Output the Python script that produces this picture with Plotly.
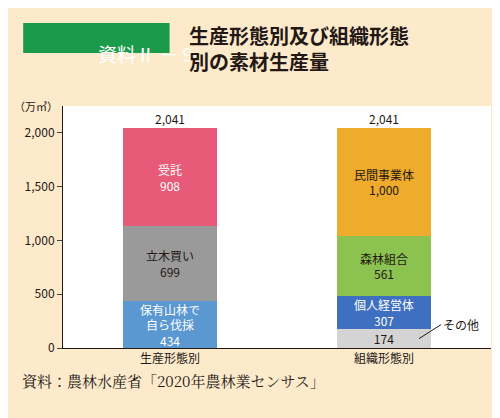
import plotly.graph_objects as go

cats = ["生産形態別", "組織形態別"]
prod_labels = ["保有山林で<br>自ら伐採", "立木買い", "受託"]
prod_values = [434, 699, 908]
prod_colors = ["#5b97d1", "#9a9a9a", "#e85b78"]
org_labels = ["", "個人経営体", "森林組合", "民間事業体"]
org_values = [174, 307, 561, 1000]
org_colors = ["#d4d4d4", "#3f6fc0", "#8cc24f", "#efab2b"]
totals = [2041, 2041]
yticks = [0, 500, 1000, 1500, 2000]

fig = go.Figure()
for lab, v, c in zip(prod_labels, prod_values, prod_colors):
    fig.add_bar(x=[cats[0]], y=[v], marker_color=c, marker_line_width=0,
                text=[f"{lab}<br>{v:,}"], textposition="inside", insidetextanchor="middle",
                textangle=0,
                textfont=dict(color="#231815" if c == "#9a9a9a" else "white", size=12),
                width=0.435, showlegend=False)
for lab, v, c in zip(org_labels, org_values, org_colors):
    t = f"{lab}<br>{v:,}" if lab else f"{v:,}"
    fig.add_bar(x=[cats[1]], y=[v], marker_color=c, marker_line_width=0,
                text=[t], textposition="inside", insidetextanchor="middle",
                textangle=0,
                textfont=dict(color="white" if c == "#3f6fc0" else "#231815", size=12),
                width=0.435, showlegend=False)
for c, t in zip(cats, totals):
    fig.add_annotation(x=c, y=t, text=f"{t:,}", showarrow=False, yshift=10,
                       font=dict(size=12, color="#231815"))
fig.add_annotation(x=cats[1], y=org_values[0] / 2, xshift=35, ax=22, ay=-14,
                   text="その他", showarrow=True, arrowhead=0, arrowwidth=1,
                   arrowcolor="#231815", xanchor="left", font=dict(size=12, color="#231815"))

fig.add_annotation(xref="paper", yref="paper", x=-0.12, y=1.04, text="（万㎥）",
                   showarrow=False, font=dict(size=11, color="#231815"), xanchor="left")
fig.add_shape(type="rect", xref="paper", yref="paper", x0=-0.093, x1=0.249, y0=1.343, y1=1.219,
              fillcolor="#1a9a4a", line_width=0)
fig.add_annotation(xref="paper", yref="paper", x=0.078, y=1.281, text="資料Ⅱ － 9",
                   showarrow=False, font=dict(size=19, color="white"))
fig.add_annotation(xref="paper", yref="paper", x=0.29, y=1.36, yanchor="top", xanchor="left",
                   align="left", text="<b>生産形態別及び組織形態<br>別の素材生産量</b>",
                   showarrow=False, font=dict(size=20, color="#231815"))
fig.add_annotation(xref="paper", yref="paper", x=-0.1, y=-0.186, xanchor="left",
                   text="資料：農林水産省「2020年農林業センサス」", showarrow=False,
                   font=dict(size=15, color="#231815", family="Noto Serif CJK JP, serif"))

fig.update_layout(
    barmode="stack", width=500, height=418,
    paper_bgcolor="#fdeacb", plot_bgcolor="white",
    margin=dict(l=55, r=17, t=98, b=78),
    uniformtext=dict(minsize=12, mode="show"),
    font=dict(family="Noto Sans CJK JP", color="#231815"),
    xaxis=dict(range=[-0.5, 1.5], showline=True, linecolor="#231815", ticks="",
               tickfont=dict(size=12)),
    yaxis=dict(range=[0, 2250], tickvals=yticks, tickformat=",", showgrid=False,
               showline=True, linecolor="#231815", ticks="outside", ticklen=5,
               tickfont=dict(size=12)),
)
fig.write_html("out.html")
